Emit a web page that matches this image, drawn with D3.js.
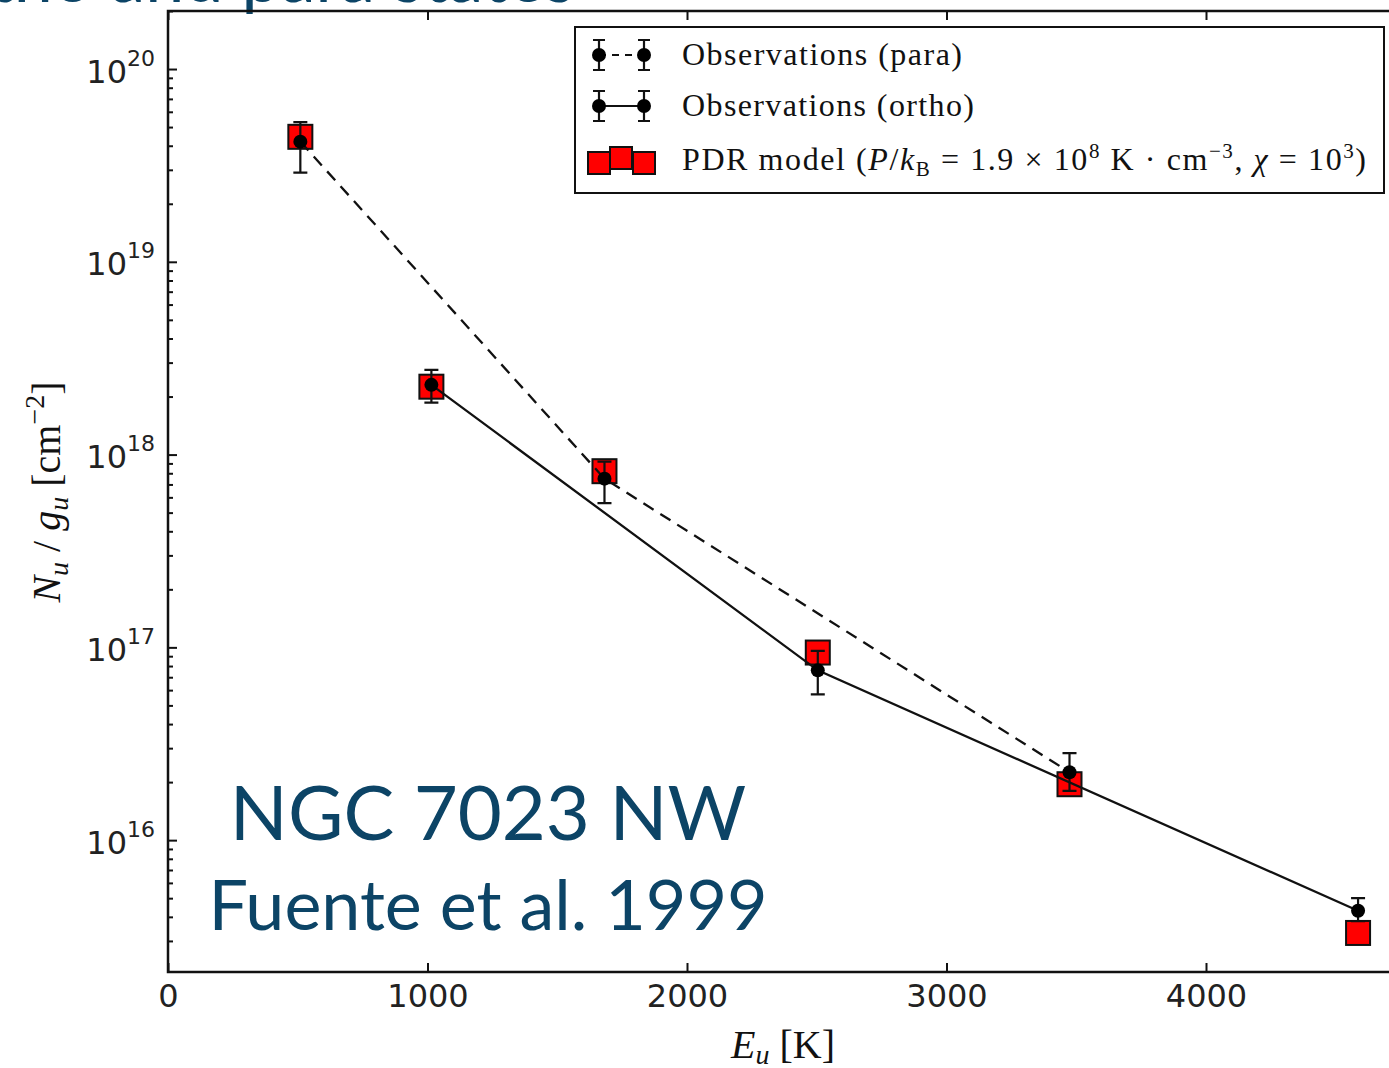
<!DOCTYPE html>
<html>
<head>
<meta charset="utf-8">
<script src="https://cdn.jsdelivr.net/npm/d3@7"></script>
<style>
body { margin: 0; background: #fff; }
svg { display: block; }
.tick text { font-family: "DejaVu Sans", sans-serif; fill: #222; }
.serif { font-family: "Liberation Serif", "DejaVu Serif", serif; fill: #111; }
.slide { font-family: Lato, "Open Sans", sans-serif; fill: #0c4466; }
</style>
</head>
<body>
<script>
// upper level energies (K) and column densities N_u/g_u (cm^-2)
var paraE = [510, 1682, 3474];
var paraN = [4.2e19, 7.5e17, 2.25e16];
var paraLo = [2.9e19, 5.6e17, 1.8e16];
var paraHi = [5.3e19, 9.2e17, 2.83e16];

var orthoE = [1015, 2504, 4586];
var orthoN = [2.3e18, 7.6e16, 4.3e15];
var orthoLo = [1.86e18, 5.7e16, 3.8e15];
var orthoHi = [2.75e18, 9.6e16, 5.0e15];

var modelE = [510, 1015, 1682, 2504, 3474, 4586];
var modelN = [4.45e19, 2.25e18, 8.2e17, 9.4e16, 1.95e16, 3.3e15];

var xTicks = [0, 1000, 2000, 3000, 4000];
var yExps = [16, 17, 18, 19, 20];

var width = 1389,
    height = 1068;

var svg = d3.select('body')
    .append('svg')
    .attr('width', width)
    .attr('height', height);

var plotLeft = 168, plotTop = 11, plotBottom = 972;

var x = d3.scaleLinear()
    .domain([0, 4800])
    .range([plotLeft, plotLeft + 4800 * 0.2595]);

var y = d3.scaleLog()
    .domain([2.07e15, 2e20])
    .range([plotBottom, plotTop]);

// cropped slide title above the plot
svg.append('text')
    .attr('class', 'slide')
    .attr('x', 575)
    .attr('y', 2)
    .attr('text-anchor', 'end')
    .style('font-size', '70px')
    .text('ortho and para states');

// axes, ticks drawn inward
var xAxis = svg.append('g')
    .attr('transform', 'translate(0,' + plotBottom + ')')
    .call(d3.axisBottom(x).tickValues(xTicks).tickSize(-9).tickPadding(12).tickFormat(d3.format('d')));
xAxis.selectAll('text').style('font-size', '32px').attr('dy', '0.71em');

svg.append('g')
    .attr('transform', 'translate(0,' + plotTop + ')')
    .call(d3.axisTop(x).tickValues(xTicks).tickSize(-9).tickFormat(''));

var majors = yExps.map(e => Math.pow(10, e));
var minors = y.ticks(40).filter(v => majors.indexOf(v) < 0);

var yAxis = svg.append('g')
    .attr('transform', 'translate(' + plotLeft + ',0)')
    .call(d3.axisLeft(y).tickValues(majors).tickSize(-9).tickFormat(''));

svg.append('g')
    .attr('transform', 'translate(' + plotLeft + ',0)')
    .call(d3.axisLeft(y).tickValues(minors).tickSize(-5).tickFormat(''));

yAxis.selectAll('.tick').each(function(d, i) {
    var t = d3.select(this).append('text')
        .attr('x', -13)
        .attr('y', 13)
        .attr('text-anchor', 'end')
        .style('font-size', '32px');
    t.append('tspan').text('10');
    t.append('tspan')
        .attr('dy', -17)
        .style('font-size', '22px')
        .text(yExps[i]);
});

svg.selectAll('.domain').remove();
svg.selectAll('.tick line').attr('stroke', '#111').attr('stroke-width', 2);

svg.append('path')
    .attr('d', 'M' + (width + 10) + ',' + plotTop + 'H' + plotLeft + 'V' + plotBottom + 'H' + (width + 10))
    .attr('fill', 'none')
    .attr('stroke', '#111')
    .attr('stroke-width', 2.5);

// model squares
var sq = 24;
svg.append('g').selectAll('rect')
    .data(modelE).enter()
    .append('rect')
    .attr('x', d => x(d) - sq / 2)
    .attr('y', (d, i) => y(modelN[i]) - sq / 2)
    .attr('width', sq)
    .attr('height', sq)
    .attr('fill', '#ff0000')
    .attr('stroke', '#111')
    .attr('stroke-width', 2);

var line = d3.line()
    .x(d => x(d[0]))
    .y(d => y(d[1]));

svg.append('path')
    .datum(paraE.map((e, i) => [e, paraN[i]]))
    .attr('d', line)
    .attr('fill', 'none')
    .attr('stroke', '#111')
    .attr('stroke-width', 2.3)
    .attr('stroke-dasharray', '12,8');

svg.append('path')
    .datum(orthoE.map((e, i) => [e, orthoN[i]]))
    .attr('d', line)
    .attr('fill', 'none')
    .attr('stroke', '#111')
    .attr('stroke-width', 2.3);

function errorBars(E, N, lo, hi) {
    var g = svg.append('g').selectAll('g')
        .data(E).enter()
        .append('g');
    g.append('path')
        .attr('d', (d, i) => {
            var cx = x(d), a = y(hi[i]), b = y(lo[i]);
            return 'M' + cx + ',' + a + 'V' + b +
                'M' + (cx - 7) + ',' + a + 'H' + (cx + 7) +
                'M' + (cx - 7) + ',' + b + 'H' + (cx + 7);
        })
        .attr('stroke', '#111')
        .attr('stroke-width', 2.2)
        .attr('fill', 'none');
    g.append('circle')
        .attr('cx', d => x(d))
        .attr('cy', (d, i) => y(N[i]))
        .attr('r', 7)
        .attr('fill', '#000');
}

errorBars(paraE, paraN, paraLo, paraHi);
errorBars(orthoE, orthoN, orthoLo, orthoHi);

// axis labels
var xl = svg.append('text')
    .attr('class', 'serif')
    .attr('x', 783)
    .attr('y', 1058)
    .attr('text-anchor', 'middle')
    .style('font-size', '40px');
xl.append('tspan').style('font-style', 'italic').text('E');
xl.append('tspan').style('font-style', 'italic').style('font-size', '28px').attr('dy', 6).text('u');
xl.append('tspan').attr('dy', -6).text(' [K]');

var yl = svg.append('text')
    .attr('class', 'serif')
    .attr('transform', 'translate(60,492) rotate(-90)')
    .attr('text-anchor', 'middle')
    .style('font-size', '40px');
yl.append('tspan').style('font-style', 'italic').text('N');
yl.append('tspan').style('font-style', 'italic').style('font-size', '28px').attr('dy', 8).text('u');
yl.append('tspan').attr('dy', -8).text(' / ');
yl.append('tspan').style('font-style', 'italic').text('g');
yl.append('tspan').style('font-style', 'italic').style('font-size', '28px').attr('dy', 8).text('u');
yl.append('tspan').attr('dy', -8).text(' [cm');
yl.append('tspan').style('font-size', '28px').attr('dy', -16).text('\u22122');
yl.append('tspan').attr('dy', 16).text(']');

// legend
var lg = svg.append('g');
lg.append('rect')
    .attr('x', 575).attr('y', 27)
    .attr('width', 809).attr('height', 166)
    .attr('fill', '#fff')
    .attr('stroke', '#111')
    .attr('stroke-width', 2);

[[55, '7,6'], [106, null]].forEach(function(row) {
    var ly = row[0];
    lg.append('path')
        .attr('d', 'M599,' + ly + 'H644')
        .attr('stroke', '#111')
        .attr('stroke-width', 2.2)
        .attr('stroke-dasharray', row[1]);
    [599, 644].forEach(function(cx) {
        lg.append('path')
            .attr('d', 'M' + cx + ',' + (ly - 15) + 'V' + (ly + 15) +
                'M' + (cx - 6) + ',' + (ly - 15) + 'H' + (cx + 6) +
                'M' + (cx - 6) + ',' + (ly + 15) + 'H' + (cx + 6))
            .attr('stroke', '#111')
            .attr('stroke-width', 2.2);
        lg.append('circle').attr('cx', cx).attr('cy', ly).attr('r', 7).attr('fill', '#000');
    });
});

[[599, 163], [644, 163], [621, 158]].forEach(function(p) {
    lg.append('rect')
        .attr('x', p[0] - 11).attr('y', p[1] - 11)
        .attr('width', 22).attr('height', 22)
        .attr('fill', '#ff0000')
        .attr('stroke', '#111')
        .attr('stroke-width', 2);
});

var lfont = '32px';
lg.append('text').attr('class', 'serif').attr('x', 682).attr('y', 65)
    .attr('textLength', 280).attr('lengthAdjust', 'spacing')
    .style('font-size', lfont).text('Observations (para)');
lg.append('text').attr('class', 'serif').attr('x', 682).attr('y', 116)
    .attr('textLength', 292).attr('lengthAdjust', 'spacing')
    .style('font-size', lfont).text('Observations (ortho)');

var pt = lg.append('text').attr('class', 'serif').attr('x', 682).attr('y', 170)
    .attr('textLength', 684).attr('lengthAdjust', 'spacing')
    .style('font-size', lfont);
pt.append('tspan').text('PDR model (');
pt.append('tspan').style('font-style', 'italic').text('P');
pt.append('tspan').text('/');
pt.append('tspan').style('font-style', 'italic').text('k');
pt.append('tspan').style('font-size', '21px').attr('dy', 6).text('B');
pt.append('tspan').attr('dy', -6).text(' = 1.9 \u00d7 10');
pt.append('tspan').style('font-size', '21px').attr('dy', -12).text('8');
pt.append('tspan').attr('dy', 12).text(' K \u00b7 cm');
pt.append('tspan').style('font-size', '21px').attr('dy', -12).text('\u22123');
pt.append('tspan').attr('dy', 12).text(', ');
pt.append('tspan').style('font-style', 'italic').text('\u03c7');
pt.append('tspan').text(' = 10');
pt.append('tspan').style('font-size', '21px').attr('dy', -12).text('3');
pt.append('tspan').attr('dy', 12).text(')');

// slide annotation
svg.append('text')
    .attr('class', 'slide')
    .attr('x', 488).attr('y', 840)
    .attr('text-anchor', 'middle')
    .style('font-size', '76px')
    .text('NGC 7023 NW');
svg.append('text')
    .attr('class', 'slide')
    .attr('x', 488).attr('y', 930)
    .attr('text-anchor', 'middle')
    .style('font-size', '70px')
    .text('Fuente et al. 1999');
</script>
</body>
</html>
